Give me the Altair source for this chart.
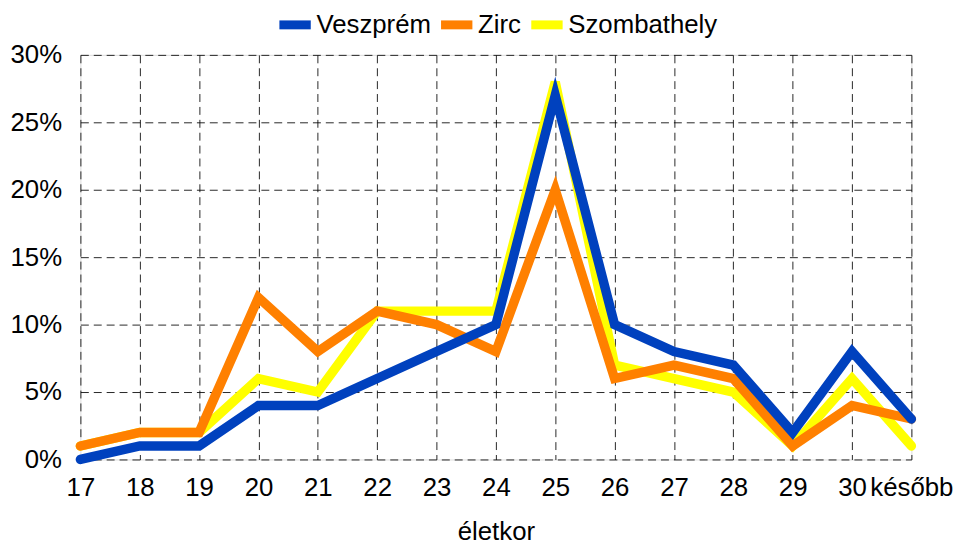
import altair as alt
import pandas as pd

ages = ["17", "18", "19", "20", "21", "22", "23", "24", "25", "26", "27", "28", "29", "30", "később"]
veszprem = [0, 1, 1, 4, 4, 6, 8, 10, 27, 10, 8, 7, 2, 8, 3]
zirc = [1, 2, 2, 12, 8, 11, 10, 8, 20, 6, 7, 6, 1, 4, 3]
szombathely = [1, 2, 2, 6, 5, 11, 11, 11, 28, 7, 6, 5, 1, 6, 1]

series = ["Veszprém", "Zirc", "Szombathely"]
colors = ["#0041BE", "#FF8000", "#FFFF00"]

rows = []
for name, vals in zip(series, [veszprem, zirc, szombathely]):
    for a, v in zip(ages, vals):
        rows.append({"age": a, "value": v / 100.0, "city": name})
df = pd.DataFrame(rows)

FONT = "Liberation Sans"

base = alt.Chart(df).mark_line(strokeWidth=9.5, strokeCap="round", strokeJoin="miter").encode(
    x=alt.X("age:N", sort=ages, title="életkor",
            scale=alt.Scale(type="point", padding=0),
            axis=alt.Axis(labelAngle=0, labelFontSize=26, labelPadding=15, ticks=False,
                          titleFontSize=26, titleFontWeight="normal", titlePadding=19,
                          grid=True, gridDash=[8, 5], gridColor="#000000", gridOpacity=0.85,
                          domain=False, labelColor="#000", titleColor="#000", labelFont=FONT,
                          titleFont=FONT)),
    y=alt.Y("value:Q", title=None,
            scale=alt.Scale(domain=[0, 0.3], nice=False),
            axis=alt.Axis(values=[0, 0.05, 0.1, 0.15, 0.2, 0.25, 0.3], format=".0%",
                          labelFontSize=26, labelPadding=19, ticks=False, domain=False,
                          grid=True, gridDash=[8, 5], gridColor="#000000", gridOpacity=0.85,
                          labelColor="#000", labelFont=FONT)),
    color=alt.Color("city:N", scale=alt.Scale(domain=series, range=colors),
                    legend=alt.Legend(title=None, orient="none", direction="horizontal",
                                      legendX=196, legendY=-51, symbolType="stroke",
                                      symbolStrokeWidth=9, symbolSize=1000,
                                      labelFontSize=26, labelFont=FONT, labelColor="#000",
                                      labelOffset=1, columnPadding=-9)),
)

layers = [base.transform_filter(alt.datum.city == s) for s in ["Szombathely", "Zirc", "Veszprém"]]

chart = alt.layer(*layers).properties(
    width=838, height=408,
    autosize=alt.AutoSizeParams(type="none"),
    padding={"left": 73, "top": 45, "right": 46, "bottom": 86},
).configure_view(stroke="#000000", strokeWidth=1.5).configure(background="white")

chart.save("out.html", embed_options={"renderer": "svg", "actions": False})
